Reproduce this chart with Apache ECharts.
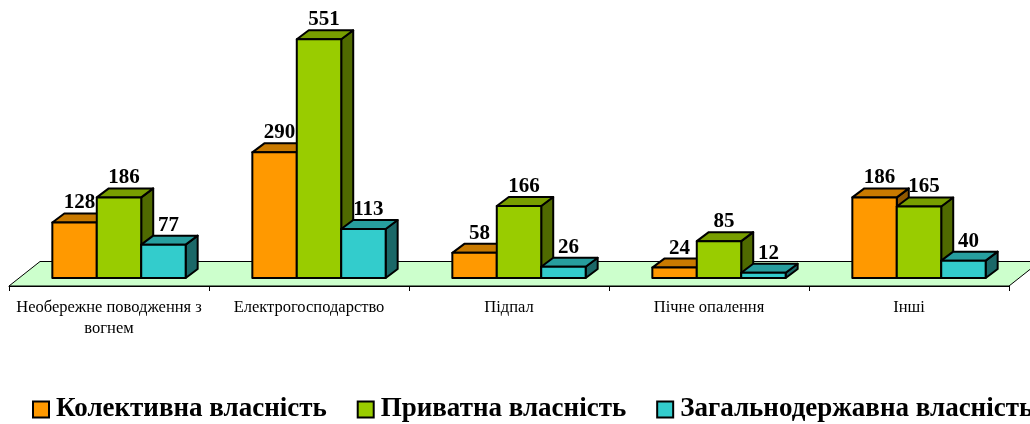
<!DOCTYPE html>
<html>
<head>
<meta charset="utf-8">
<script src="https://cdn.jsdelivr.net/npm/echarts@6/dist/echarts.min.js"></script>
<style>
  html, body { margin: 0; padding: 0; background: #fff; }
  #grafica { width: 1030px; height: 424px; }
</style>
</head>
<body>
<div id="grafica"></div>
<script>
var categorias = ['Необережне поводження з вогнем', 'Електрогосподарство', 'Підпал', 'Пічне опалення', 'Інші']
var nombres = ['Колективна власність', 'Приватна власність', 'Загальнодержавна власність']
var colectiva = [128, 290, 58, 24, 186]
var privada = [186, 551, 166, 85, 165]
var estatal = [77, 113, 26, 12, 40]

// frente, tapa, lado
var colores = [
  ['#FF9900', '#C97A00', '#8F5700'],
  ['#99CC00', '#789E00', '#4F6A00'],
  ['#33CCCC', '#279E9E', '#1B6868']
]

var fuente = 'Liberation Serif'
var profx = 12, profy = 9      // profundidad de las barras
var pisox = 31, pisoatras = 16.5, pisofrente = 8
var corrimiento = 10           // las barras quedan a mitad del piso
var anchobarra = 0.2222

function dibujarbarra(serie) {
  var c = colores[serie]
  return function (params, api) {
    var idx = api.value(0), val = api.value(1)
    var base = api.coord([idx, 0])
    var tope = api.coord([idx, val])
    var banda = api.size([1, 0])[0]
    var ancho = banda * anchobarra
    var x0 = base[0] + corrimiento - ancho * 1.5 + serie * ancho
    var x1 = x0 + ancho
    var yb = base[1], yt = tope[1]
    var borde = { stroke: '#000', lineWidth: 2, lineJoin: 'round' }
    return {
      type: 'group',
      children: [
        { type: 'polygon', shape: { points: [[x1, yt], [x1 + profx, yt - profy], [x1 + profx, yb - profy], [x1, yb]] },
          style: Object.assign({ fill: c[2] }, borde) },
        { type: 'polygon', shape: { points: [[x0, yt], [x0 + profx, yt - profy], [x1 + profx, yt - profy], [x1, yt]] },
          style: Object.assign({ fill: c[1] }, borde) },
        { type: 'rect', shape: { x: x0, y: yt, width: ancho, height: yb - yt },
          style: Object.assign({ fill: c[0] }, borde) },
        { type: 'text', z2: 100,
          style: { text: String(val), x: (x0 + x1) / 2 + 5, y: yt - profy,
            align: 'center', verticalAlign: 'bottom',
            fontFamily: fuente, fontWeight: 'bold', fontSize: 21, fill: '#000' } }
      ]
    }
  }
}

function dibujarpiso(params, api) {
  var cs = params.coordSys
  var yb = cs.y + cs.height
  var xa = cs.x, xb = cs.x + cs.width
  return {
    type: 'polygon',
    shape: { points: [[xa, yb + pisofrente], [xa + pisox, yb - pisoatras], [xb + pisox, yb - pisoatras], [xb, yb + pisofrente]] },
    style: { fill: '#CCFFCC', stroke: '#000', lineWidth: 1 }
  }
}

function serieBarra(i, valores) {
  return {
    name: nombres[i],
    type: 'custom',
    renderItem: dibujarbarra(i),
    itemStyle: { color: colores[i][0] },
    encode: { x: 0, y: 1 },
    data: valores.map(function (v, j) { return [j, v] })
  }
}

function partiretiqueta(texto) {
  // como en el original, la primera etiqueta se corta antes de la ultima palabra
  var partes = texto.split(' ')
  if (partes.length > 3) return partes.slice(0, -1).join(' ') + '\n' + partes[partes.length - 1]
  return texto
}

var myChart = echarts.init(document.getElementById('grafica'))
var option = {
  animation: false,
  backgroundColor: '#fff',
  color: colores.map(function (c) { return c[0] }),
  grid: { left: 9, right: 21, top: 18, bottom: 146 },
  legend: {
    data: nombres,
    left: 32,
    bottom: 1,
    width: 1100,
    padding: 0,
    icon: 'rect',
    itemWidth: 16,
    itemHeight: 16,
    itemGap: 30,
    itemStyle: { borderColor: '#000', borderWidth: 2 },
    textStyle: { fontFamily: fuente, fontWeight: 'bold', fontSize: 27, color: '#000', padding: [0, 0, 0, 2] }
  },
  xAxis: {
    type: 'category',
    data: categorias,
    offset: pisofrente,
    axisLine: { onZero: false, lineStyle: { color: '#000', width: 1 } },
    axisTick: { show: true, length: 5, lineStyle: { color: '#000' } },
    axisLabel: {
      interval: 0, margin: 11, color: '#000', fontFamily: fuente, fontSize: 16.5,
      lineHeight: 21, hideOverlap: false, formatter: partiretiqueta
    }
  },
  yAxis: { type: 'value', min: 0, max: 600, show: false },
  series: [
    { type: 'custom', name: 'piso', renderItem: dibujarpiso, data: [[0, 0]], encode: { x: 0, y: 1 }, silent: true },
    serieBarra(0, colectiva),
    serieBarra(1, privada),
    serieBarra(2, estatal)
  ]
}
myChart.setOption(option)
</script>
</body>
</html>
